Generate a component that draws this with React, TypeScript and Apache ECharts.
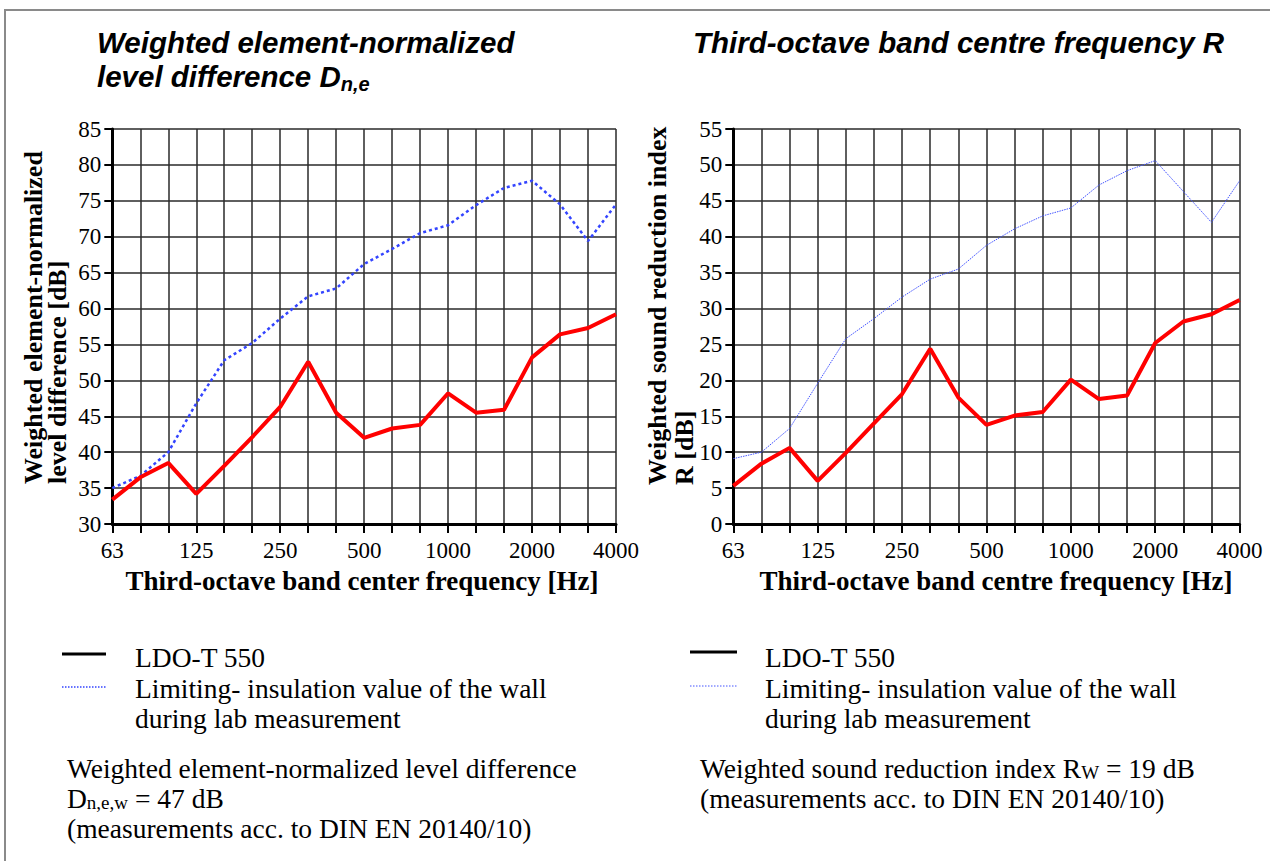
import React, { useEffect, useRef } from "react";
import * as echarts from "echarts";

const freqs = ["63", "80", "100", "125", "160", "200", "250", "315", "400", "500", "630", "800", "1000", "1250", "1600", "2000", "2500", "3150", "4000"];
const dneLdo = [33.4, 36.5, 38.5, 34.2, 38.1, 42.1, 46.3, 52.6, 45.5, 42.0, 43.3, 43.8, 48.2, 45.5, 45.9, 53.2, 56.4, 57.3, 59.2];
const dneLimit = [35.0, 36.7, 40.0, 46.8, 52.8, 55.2, 58.6, 61.7, 62.8, 66.2, 68.3, 70.5, 71.6, 74.4, 76.8, 77.8, 74.5, 69.4, 74.5];
const rLdo = [5.3, 8.4, 10.6, 6.0, 9.9, 14.0, 18.1, 24.4, 17.6, 13.8, 15.1, 15.6, 20.1, 17.4, 17.9, 25.2, 28.2, 29.2, 31.2];
const rLimit = [9.1, 10.0, 13.3, 19.6, 25.8, 28.6, 31.6, 34.1, 35.5, 38.8, 41.1, 42.9, 44.0, 47.2, 49.2, 50.6, 46.3, 42.0, 47.8];
const leftYRange = [30, 85];
const rightYRange = [0, 55];

const SERIF = "'Liberation Serif', 'Times New Roman', serif";
const SANS = "'Liberation Sans', Arial, sans-serif";

function xAxisCfg(gridIndex: number) {
  return {
    type: "category",
    gridIndex,
    data: freqs,
    boundaryGap: false,
    axisLine: { lineStyle: { color: "#000", width: 3 } },
    axisTick: { show: true, interval: 0, length: 9, lineStyle: { color: "#000", width: 2 } },
    axisLabel: { interval: 2, fontFamily: SERIF, fontSize: 23, color: "#000", margin: 15 },
    splitLine: { show: true, interval: 0, lineStyle: { color: "#2a2a2a", width: 1.5 } },
  };
}

function yAxisCfg(gridIndex: number, range: number[]) {
  return {
    type: "value",
    gridIndex,
    min: range[0],
    max: range[1],
    interval: 5,
    axisLine: { show: true, lineStyle: { color: "#000", width: 3 } },
    axisTick: { show: true, length: 8, lineStyle: { color: "#000", width: 2 } },
    axisLabel: { fontFamily: SERIF, fontSize: 23, color: "#000", margin: 11 },
    splitLine: { show: true, lineStyle: { color: "#2a2a2a", width: 1.5 } },
  };
}

const bodyFont = { fontFamily: SERIF, fontSize: 27.5, fill: "#000" };

function txt(x: number, y: number, text: string, extra: any = {}) {
  return {
    type: "text",
    x,
    y,
    style: { text, ...bodyFont, verticalAlign: "middle", ...extra },
  };
}

const titleFont = { fontFamily: SANS, fontSize: 29.5, fontWeight: "bold", fontStyle: "italic", fill: "#000" };
const axisNameFont = { fontFamily: SERIF, fontSize: 26, fontWeight: "bold", fill: "#000" };
const xNameFont = { ...axisNameFont, fontSize: 27 };

export default function App() {
  const ref = useRef<HTMLDivElement>(null);
  useEffect(() => {
    const chart = echarts.init(ref.current!, null, { renderer: "svg" });
    const subRich = {
      s: { fontFamily: SERIF, fontSize: 19, fill: "#000", verticalAlign: "bottom", lineHeight: 20 },
    };
    chart.setOption({
      animation: false,
      backgroundColor: "#fff",
      grid: [
        { left: 112.3, top: 129, width: 503.7, height: 395 },
        { left: 733.3, top: 129, width: 506.3, height: 395 },
      ],
      xAxis: [xAxisCfg(0), xAxisCfg(1)],
      yAxis: [yAxisCfg(0, leftYRange), yAxisCfg(1, rightYRange)],
      series: [
        {
          type: "line", xAxisIndex: 0, yAxisIndex: 0, data: dneLimit, symbol: "none",
          lineStyle: { color: "#3344ff", width: 2.5, type: [3, 3] }, z: 3,
        },
        {
          type: "line", xAxisIndex: 0, yAxisIndex: 0, data: dneLdo, symbol: "none",
          lineStyle: { color: "#ff0000", width: 4 }, z: 4,
        },
        {
          type: "line", xAxisIndex: 1, yAxisIndex: 1, data: rLimit, symbol: "none",
          lineStyle: { color: "#4455ff", width: 1, type: [1.5, 1] }, z: 3,
        },
        {
          type: "line", xAxisIndex: 1, yAxisIndex: 1, data: rLdo, symbol: "none",
          lineStyle: { color: "#ff0000", width: 4 }, z: 4,
        },
      ],
      graphic: [
        {
          type: "rect", shape: { x: 5, y: 10, width: 1300, height: 900 },
          style: { fill: "none", stroke: "#8a8a8a", lineWidth: 2 }, silent: true,
        },
        // titles
        {
          type: "text", x: 97, y: 42,
          style: { text: "Weighted element-normalized", ...titleFont, verticalAlign: "middle" },
        },
        {
          type: "text", x: 97, y: 76,
          style: {
            text: "level difference D{sub|n,e}",
            ...titleFont, verticalAlign: "middle", lineHeight: 36,
            rich: { sub: { ...titleFont, fontSize: 20, verticalAlign: "bottom", lineHeight: 21 } },
          },
        },
        {
          type: "text", x: 693, y: 42,
          style: { text: "Third-octave band centre frequency R", ...titleFont, verticalAlign: "middle" },
        },
        // y axis names
        {
          type: "text", x: 33, y: 484, rotation: Math.PI / 2,
          style: { text: "Weighted element-normalized", ...axisNameFont, align: "left", verticalAlign: "middle" },
        },
        {
          type: "text", x: 57, y: 484, rotation: Math.PI / 2,
          style: { text: "level difference [dB]", ...axisNameFont, align: "left", verticalAlign: "middle" },
        },
        {
          type: "text", x: 657, y: 485, rotation: Math.PI / 2,
          style: { text: "Weighted sound reduction index", ...axisNameFont, align: "left", verticalAlign: "middle" },
        },
        {
          type: "text", x: 684, y: 485, rotation: Math.PI / 2,
          style: { text: "R [dB]", ...axisNameFont, align: "left", verticalAlign: "middle" },
        },
        // x axis names
        {
          type: "text", x: 362, y: 581,
          style: { text: "Third-octave band center frequency [Hz]", ...xNameFont, align: "center", verticalAlign: "middle" },
        },
        {
          type: "text", x: 996, y: 581,
          style: { text: "Third-octave band centre frequency [Hz]", ...xNameFont, align: "center", verticalAlign: "middle" },
        },
        // left legend
        { type: "line", shape: { x1: 62, y1: 654, x2: 106, y2: 654 }, style: { stroke: "#000", lineWidth: 3 } },
        { type: "line", shape: { x1: 62, y1: 687, x2: 106, y2: 687 }, style: { stroke: "#3344ff", lineWidth: 1.5, lineDash: [1.5, 1.5] } },
        txt(135, 657, "LDO-T 550"),
        txt(135, 688, "Limiting- insulation value of the wall"),
        txt(135, 718, "during lab measurement"),
        txt(67, 768, "Weighted element-normalized level difference"),
        txt(67, 798, "D{s|n,e,w} = 47 dB", { rich: subRich }),
        txt(67, 828, "(measurements acc. to DIN EN 20140/10)"),
        // right legend
        { type: "line", shape: { x1: 690, y1: 652, x2: 737, y2: 652 }, style: { stroke: "#000", lineWidth: 3 } },
        { type: "line", shape: { x1: 690, y1: 686, x2: 737, y2: 686 }, style: { stroke: "#4455ff", lineWidth: 1, lineDash: [1.5, 1.5] } },
        txt(765, 657, "LDO-T 550"),
        txt(765, 688, "Limiting- insulation value of the wall"),
        txt(765, 718, "during lab measurement"),
        txt(700, 768, "Weighted sound reduction index R{s|W} = 19 dB", { rich: subRich }),
        txt(700, 798, "(measurements acc. to DIN EN 20140/10)"),
      ],
    });
    return () => chart.dispose();
  }, []);
  return (
    <div
      ref={ref}
      style={{ position: "absolute", left: 0, top: 0, width: 1270, height: 861, background: "#fff" }}
    />
  );
}
